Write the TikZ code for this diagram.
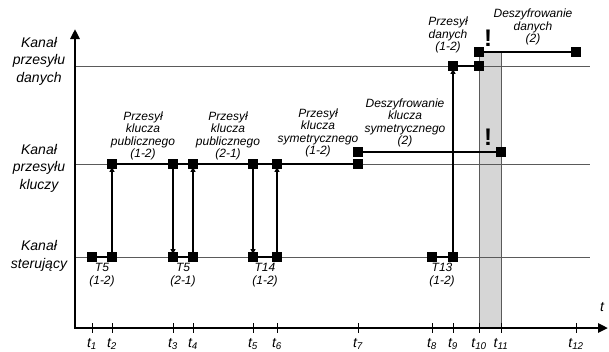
\documentclass[tikz,border=0pt]{standalone}
\usepackage{fontspec}
\setmainfont{Liberation Sans}
\usetikzlibrary{positioning,arrows.meta,backgrounds}
\definecolor{gray800}{HTML}{333333}
\definecolor{gray600}{HTML}{5A5A5A}
\definecolor{gray300}{HTML}{D6D6D6}
\tikzset{
  every node/.style={font=\itshape\fontsize{12}{12.4}\selectfont, align=center, inner sep=0pt},
  chanlabel/.style={font=\itshape\fontsize{14}{17.5}\selectfont},
  tlabel/.style={font=\itshape\fontsize{14}{14}\selectfont},
  sq/.style={rectangle, fill=black, minimum size=9.5pt},
  axis/.style={line width=2.6pt, {Triangle[length=10pt,width=9pt]}-{Triangle[length=10pt,width=9pt]}},
  chanline/.style={draw=gray600, line width=0.9pt},
  busy/.style={line width=2.6pt},
  msg/.style={-{Triangle[length=5pt,width=5pt]}, line width=1.1pt, shorten >=-2pt},
  tick/.style={line width=1pt},
  warn/.style={font=\bfseries\fontsize{24}{24}\selectfont},
  band/.style={fill=gray300, draw=gray600, line width=0.8pt},
}
\begin{document}
\begin{tikzpicture}[x=1pt,y=-1pt]
  \useasboundingbox (0,0) rectangle (609,351);
  \coordinate (o) at (75,328);
  \coordinate (ytip) at (75,29);
  \coordinate (xtip) at (608,328);

  \node[chanlabel] (lbldata) at (39,61) {Kanał\\przesyłu\\danych};
  \node[chanlabel] (lblkey) at (39,168) {Kanał\\przesyłu\\kluczy};
  \node[chanlabel] (lblctrl) at (39,256) {Kanał\\sterujący};

  \foreach \x/\n in {92/1,112/2,173/3,193/4,253/5,277/6,358/7,432/8,453/9,479/10,501/11,576/12} {
    \draw[tick] (\x,323) -- (\x,333);
    \node[tlabel, anchor=north] (t\n) at (\x,338.5) {t\textsubscript{\n}};
  }
  \node[tlabel] (taxis) at (602,307) {t};

  \foreach \x/\n in {92/1,112/2,173/3,193/4,253/5,277/6,432/8,453/9}
    \node[sq] (c\n) at (\x,257) {};
  \foreach \x/\n in {112/2,173/3,193/4,253/5,277/6,358/7}
    \node[sq] (k\n) at (\x,164) {};
  \node[sq] (s7) at (358,152) {};
  \node[sq] (s11) at (501,152) {};
  \node[sq] (d9) at (453,66) {};
  \node[sq] (d10) at (479,66) {};
  \node[sq] (e10) at (479,52) {};
  \node[sq] (e12) at (576,52) {};

  \begin{scope}[on background layer]
    \draw[band] (e10.center) rectangle (s11.center |- o);
    \draw[chanline] (75,66) -- (590,66);
    \draw[chanline] (75,164) -- (590,164);
    \draw[chanline] (75,257) -- (590,257);
    \draw[busy] (c1) -- (c2);
    \draw[busy] (c3) -- (c4);
    \draw[busy] (c5) -- (c6);
    \draw[busy] (c8) -- (c9);
    \draw[busy] (k2) -- (k7);
    \draw[busy] (s7) -- (s11);
    \draw[busy] (d9) -- (d10);
    \draw[busy] (e10) -- (e12);
    \draw[msg] (c2) -- (k2);
    \draw[msg] (k3) -- (c3);
    \draw[msg] (c4) -- (k4);
    \draw[msg] (k5) -- (c5);
    \draw[msg] (c6) -- (k6);
    \draw[msg] (c9) -- (d9);
  \end{scope}

  \draw[axis] (xtip) -- (o) -- (ytip);

  \node (pub12) at (143,136) {Przesył\\klucza\\publicznego\\(1-2)};
  \node (pub21) at (228,136) {Przesył\\klucza\\publicznego\\(2-1)};
  \node (sym12) at (318,133) {Przesył\\klucza\\symetrycznego\\(1-2)};
  \node (symdec) at (405,123) {Deszyfrowanie\\klucza\\symetrycznego\\(2)};
  \node (dat12) at (448,35) {Przesył\\danych\\(1-2)};
  \node (datdec) at (533,27) {Deszyfrowanie\\danych\\(2)};
  \node (ct1) at (102,275) {T5\\(1-2)};
  \node (ct2) at (183,275) {T5\\(2-1)};
  \node (ct3) at (265,275) {T14\\(1-2)};
  \node (ct4) at (442,275) {T13\\(1-2)};

  \node[warn] (warndata) at (488,38) {!};
  \node[warn] (warnkey) at (488,137) {!};
\end{tikzpicture}
\end{document}
